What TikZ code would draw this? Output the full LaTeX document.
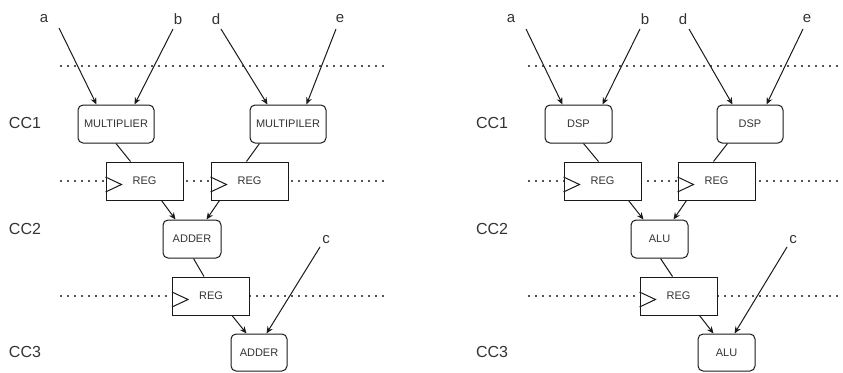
\documentclass[tikz,border=0pt]{standalone}
\usepackage{fontspec}
\setmainfont{Liberation Sans}
\usetikzlibrary{arrows.meta}
\definecolor{ink}{HTML}{1A1A1A}
\definecolor{txt}{HTML}{333333}
\definecolor{dotc}{HTML}{555555}
\tikzset{
  unit/.style={draw=ink, line width=1pt, rounded corners=5pt, fill=white,
    minimum height=38pt, inner sep=0pt, font=\fontsize{11}{11}\selectfont, text=txt},
  regbox/.style={draw=ink, line width=1pt, fill=white, minimum width=77pt,
    minimum height=38pt, inner sep=0pt, font=\fontsize{11}{11}\selectfont, text=txt},
  sig/.style={font=\fontsize{15}{15}\selectfont, text=txt},
  cyc/.style={font=\fontsize{16}{16}\selectfont, text=txt},
  wire/.style={draw=ink, line width=1pt},
  feed/.style={wire, -{Stealth[length=7pt,width=6pt]}},
  stage/.style={draw=dotc, line width=1.6pt, dash pattern=on 1.6pt off 5.4pt},
}
% draws the clock triangle on the left side of a register box
\newcommand{\clk}[1]{\draw[wire] ([yshift=-11pt]#1.west) -- ([xshift=16pt,yshift=-3.5pt]#1.west) -- ([yshift=4pt]#1.west);}
\begin{document}
\begin{tikzpicture}[x=1pt, y=-1pt]
\useasboundingbox (0,0) rectangle (843,372);

% pipeline stage boundaries
\foreach \yy in {66,181,296} {
  \draw[stage] (60,\yy) -- (385,\yy);
  \draw[stage] (528,\yy) -- (843,\yy);
}

% ---------- left: multiplier / adder datapath ----------
\node[cyc] (l1) at (25,123) {CC1};
\node[cyc] (l2) at (25,229) {CC2};
\node[cyc] (l3) at (25,352) {CC3};

\node[sig] (a) at (44,19) {a};
\node[sig] (b) at (178,19) {b};
\node[sig] (d) at (216,19) {d};
\node[sig] (e) at (340,19) {e};
\node[sig] (c) at (326,240) {c};
\coordinate (as) at (59,28);
\coordinate (bs) at (173,29);
\coordinate (ds) at (221,29);
\coordinate (es) at (336,29);
\coordinate (cs) at (320,247);

\node[unit, minimum width=76pt] (mul1) at (116,124) {MULTIPLIER};
\node[unit, minimum width=76pt] (mul2) at (288,124) {MULTIPILER};
\node[regbox] (reg1) at (144.5,181) {REG};
\node[regbox] (reg2) at (249.5,181) {REG};
\node[unit, minimum width=58pt] (add1) at (192,239) {ADDER};
\node[regbox] (reg3) at (211,296) {REG};
\node[unit, minimum width=56pt, minimum height=37pt] (add2) at (259,352.5) {ADDER};
\clk{reg1} \clk{reg2} \clk{reg3}

\draw[feed] (as) -- ([xshift=19pt]mul1.north west);
\draw[feed] (bs) -- ([xshift=57pt]mul1.north west);
\draw[feed] (ds) -- ([xshift=18pt]mul2.north west);
\draw[feed] (es) -- ([xshift=57pt]mul2.north west);
\draw[wire] (mul1.south) -- ([xshift=25pt]reg1.north west);
\draw[wire] ([xshift=10pt]mul2.south west) -- ([xshift=36pt]reg2.north west);
\draw[feed] ([xshift=56pt]reg1.south west) -- ([xshift=13pt]add1.north west);
\draw[feed] ([xshift=9pt]reg2.south west) -- ([xshift=44pt]add1.north west);
\draw[wire] ([xshift=31pt]add1.south west) -- ([xshift=32pt]reg3.north west);
\draw[feed] ([xshift=60pt]reg3.south west) -- ([xshift=16pt]add2.north west);
\draw[feed] (cs) -- ([xshift=36pt]add2.north west);

% ---------- right: DSP / ALU datapath ----------
\node[cyc] (r1) at (492,123) {CC1};
\node[cyc] (r2) at (492,229) {CC2};
\node[cyc] (r3) at (492,352) {CC3};

\node[sig] (ra) at (511,19) {a};
\node[sig] (rb) at (645,19) {b};
\node[sig] (rd) at (683,19) {d};
\node[sig] (re) at (807,19) {e};
\node[sig] (rc) at (793,240) {c};
\coordinate (ras) at (526,29);
\coordinate (rbs) at (640,29);
\coordinate (rds) at (689,29);
\coordinate (res) at (803,29);
\coordinate (rcs) at (787,247);

\node[unit, minimum width=67pt] (dsp1) at (578.5,124) {DSP};
\node[unit, minimum width=66pt] (dsp2) at (750,124) {DSP};
\node[regbox] (rreg1) at (602.5,181) {REG};
\node[regbox] (rreg2) at (716.5,181) {REG};
\node[unit, minimum width=57pt] (alu1) at (659.5,239) {ALU};
\node[regbox] (rreg3) at (678.5,296) {REG};
\node[unit, minimum width=57pt, minimum height=37pt] (alu2) at (726.5,352.5) {ALU};
\clk{rreg1} \clk{rreg2} \clk{rreg3}

\draw[feed] (ras) -- ([xshift=18pt]dsp1.north west);
\draw[feed] (rbs) -- ([xshift=58pt]dsp1.north west);
\draw[feed] (rds) -- ([xshift=16pt]dsp2.north west);
\draw[feed] (res) -- ([xshift=50pt]dsp2.north west);
\draw[wire] ([xshift=39pt]dsp1.south west) -- ([xshift=35pt]rreg1.north west);
\draw[wire] ([xshift=11pt]dsp2.south west) -- ([xshift=36pt]rreg2.north west);
\draw[feed] ([xshift=65pt]rreg1.south west) -- ([xshift=13pt]alu1.north west);
\draw[feed] ([xshift=9pt]rreg2.south west) -- ([xshift=43pt]alu1.north west);
\draw[wire] ([xshift=30pt]alu1.south west) -- ([xshift=33pt]rreg3.north west);
\draw[feed] ([xshift=60pt]rreg3.south west) -- ([xshift=16pt]alu2.north west);
\draw[feed] (rcs) -- ([xshift=37pt]alu2.north west);
\end{tikzpicture}
\end{document}
